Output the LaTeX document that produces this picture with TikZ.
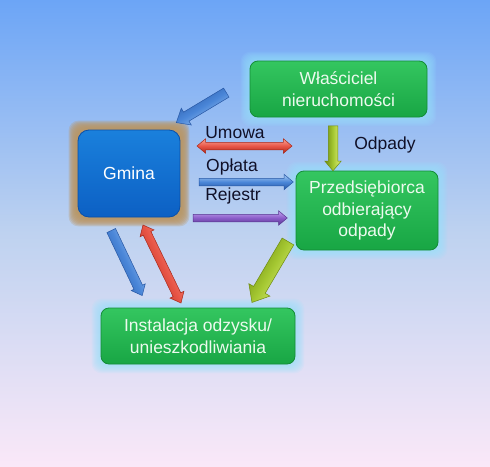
\documentclass[tikz,border=0pt]{standalone}
\usepackage{fontspec}
\setmainfont{Liberation Sans}
\usetikzlibrary{shapes.arrows,calc}
\pgfdeclarelayer{bg}\pgfdeclarelayer{glow}
\pgfsetlayers{bg,glow,main}
\definecolor{bgtop}{RGB}{108,165,246}
\definecolor{bgmid}{RGB}{190,210,240}
\definecolor{bgbot}{RGB}{250,232,248}
\definecolor{boxtop}{RGB}{52,198,96}
\definecolor{boxbot}{RGB}{24,166,68}
\definecolor{boxedge}{RGB}{20,140,55}
\definecolor{boxtext}{RGB}{236,250,238}
\definecolor{gtop}{RGB}{26,128,220}
\definecolor{gbot}{RGB}{12,96,196}
\definecolor{gedge}{RGB}{10,80,170}
\definecolor{tan}{RGB}{186,150,100}
\definecolor{cyanglow}{RGB}{150,228,255}
\definecolor{lbltext}{RGB}{16,16,40}
\definecolor{ablue}{RGB}{74,134,216}\definecolor{abluelight}{RGB}{170,205,245}\definecolor{abluedark}{RGB}{40,88,165}
\definecolor{ared}{RGB}{232,85,70}\definecolor{aredlight}{RGB}{250,165,150}\definecolor{areddark}{RGB}{170,40,25}
\definecolor{apur}{RGB}{138,92,200}\definecolor{apurlight}{RGB}{195,165,240}\definecolor{apurdark}{RGB}{88,55,145}
\definecolor{ayel}{RGB}{165,200,50}\definecolor{ayellight}{RGB}{225,240,130}\definecolor{ayeldark}{RGB}{110,140,15}
\tikzset{
  box/.style={rounded corners=8pt, draw=boxedge, line width=.8pt, top color=boxtop, bottom color=boxbot,
    text=boxtext, align=center, font=\fontsize{17.5}{21.5}\selectfont, inner sep=0pt},
  lbl/.style={text=lbltext, font=\fontsize{17.5}{20}\selectfont, inner sep=0pt},
  sarr/.style n args={4}{single arrow, inner xsep=0pt, inner ysep=#1/2, minimum width=0pt, single arrow head extend=#2,
    single arrow tip angle=#3, draw=#4dark, line width=.5pt, top color=#4light, bottom color=#4dark, middle color=#4},
  darr/.style n args={4}{double arrow, inner xsep=0pt, inner ysep=#1/2, minimum width=0pt, double arrow head extend=#2,
    double arrow tip angle=#3, draw=#4dark, line width=.5pt, top color=#4light, bottom color=#4dark, middle color=#4},
}
\newcommand\blockarrow[4]{\path let \p1=(#3), \p2=(#4), \n1={atan2(\y2-\y1,\x2-\x1)},
  \n2={veclen(\x2-\x1,\y2-\y1)} in node[#2, rotate=\n1, shading angle=\n1, minimum height=\n2] (#1) at ($(\p1)!0.5!(\p2)$) {};}
\newcommand\glowbox[4]{% node, color, steps, opacity
  \begin{pgfonlayer}{glow}
  \foreach \k in {1,...,#3}{
    \fill[#2, opacity=#4, rounded corners=10pt] ($(#1.south west)+(-\k,\k)$) rectangle ($(#1.north east)+(\k,-\k)$);}
  \end{pgfonlayer}}
\begin{document}
\begin{tikzpicture}[x=1pt,y=-1pt]
\useasboundingbox (0,0) rectangle (490,466);
\begin{pgfonlayer}{bg}
\shade[top color=bgtop, bottom color=bgbot, middle color=bgmid] (0,0) rectangle (490,466);
\end{pgfonlayer}
% boxes
\node[box, minimum width=177pt, minimum height=56pt] (wl) at (338.5,89) {Właściciel\\nieruchomości};
\node[box, rounded corners=11pt, top color=gtop, bottom color=gbot, draw=gedge, text=white, minimum width=102pt, minimum height=87pt] (gm) at (129,173.5) {Gmina};
\node[box, minimum width=142pt, minimum height=79pt] (pr) at (367,210.5) {Przedsiębiorca\\odbierający\\odpady};
\node[box, minimum width=194pt, minimum height=56pt] (in) at (198,336) {Instalacja odzysku/\\unieszkodliwiania};
\glowbox{wl}{cyanglow}{9}{0.11}
\glowbox{pr}{cyanglow}{9}{0.11}
\glowbox{in}{cyanglow}{9}{0.11}
\glowbox{gm}{tan}{9}{0.28}
% labels
\node[lbl] (lu) at (235,133) {Umowa};
\node[lbl] (lo) at (232,167) {Opłata};
\node[lbl] (lr) at (233,196) {Rejestr};
\node[lbl] (ld) at (385,145) {Odpady};
% arrow end points
\coordinate (a1s) at (229,91);  \coordinate (a1e) at (179,121);
\coordinate (a2s) at (197,146); \coordinate (a2e) at (292,146);
\coordinate (a3s) at (197,182); \coordinate (a3e) at (291,182);
\coordinate (a4s) at (191,218); \coordinate (a4e) at (285,218);
\coordinate (a5s) at (333,123); \coordinate (a5e) at (333,168);
\coordinate (a6s) at (290,238); \coordinate (a6e) at (254,299);
\coordinate (a7s) at (110,228); \coordinate (a7e) at (141,293);
\coordinate (a8s) at (143,225); \coordinate (a8e) at (181,303);
\blockarrow{ar1}{sarr={10pt}{4.5pt}{80}{ablue}}{a1s}{a1e}
\blockarrow{ar2}{darr={7pt}{3.5pt}{80}{ared}}{a2s}{a2e}
\blockarrow{ar3}{sarr={7pt}{4pt}{80}{ablue}}{a3s}{a3e}
\blockarrow{ar4}{sarr={7pt}{3.5pt}{80}{apur}}{a4s}{a4e}
\blockarrow{ar5}{sarr={9pt}{3.5pt}{80}{ayel}}{a5s}{a5e}
\blockarrow{ar6}{sarr={13pt}{5.5pt}{80}{ayel}}{a6s}{a6e}
\blockarrow{ar7}{sarr={9pt}{3pt}{80}{ablue}}{a7s}{a7e}
\blockarrow{ar8}{darr={8pt}{3.5pt}{80}{ared}}{a8s}{a8e}
\end{tikzpicture}
\end{document}
